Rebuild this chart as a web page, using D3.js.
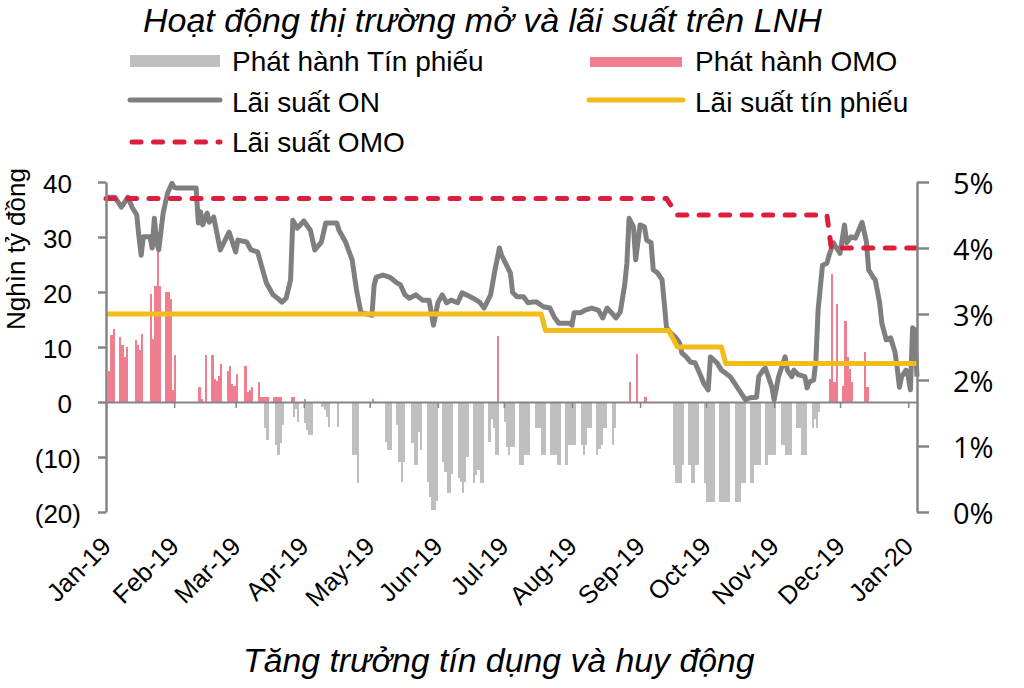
<!DOCTYPE html>
<html><head><meta charset="utf-8">
<script src="https://cdn.jsdelivr.net/npm/d3@7"></script>
<style>
body{margin:0;background:#fff}
svg{display:block}
text{font-family:"Liberation Sans",Arial,sans-serif;fill:#000}
</style>
</head><body>
<svg id="chart" width="1024" height="688"></svg>
<script>
// ---------- DATA ----------
const chartTitle = "Hoạt động thị trường mở và lãi suất trên LNH";
const bottomTitle = "Tăng trưởng tín dụng và huy động";
const leftAxisTitle = "Nghìn tỷ đồng";
const legendLabels = ["Phát hành Tín phiếu","Phát hành OMO","Lãi suất ON","Lãi suất tín phiếu","Lãi suất OMO"];
const leftTicks = [40,30,20,10,0,-10,-20];
const rightTicks = [0,1,2,3,4,5];
const monthTicks = ["2019-01-01","2019-02-01","2019-03-01","2019-04-01","2019-05-01","2019-06-01","2019-07-01",
  "2019-08-01","2019-09-01","2019-10-01","2019-11-01","2019-12-01","2020-01-01"];

// Phát hành OMO (nghìn tỷ đồng)
const omoIssue = [
 ["2019-01-02",5.7],["2019-01-03",12.1],["2019-01-04",13.3],
 ["2019-01-07",11.8],["2019-01-08",10.3],["2019-01-09",8.2],["2019-01-10",10.0],
 ["2019-01-14",11.2],["2019-01-15",10.3],["2019-01-16",9.4],["2019-01-17",12.4],
 ["2019-01-21",19.6],["2019-01-22",11.5],["2019-01-23",21.1],["2019-01-24",27.8],["2019-01-25",21.1],
 ["2019-01-28",20.0],["2019-01-29",20.0],["2019-01-30",18.7],["2019-01-31",2.1],["2019-02-01",8.5],
 ["2019-02-12",2.7],["2019-02-13",0.6],["2019-02-15",8.5],
 ["2019-02-18",8.5],["2019-02-19",4.2],["2019-02-20",3.9],["2019-02-21",4.8],["2019-02-22",6.9],
 ["2019-02-25",5.7],["2019-02-26",6.6],["2019-02-27",3.3],["2019-02-28",3.0],["2019-03-01",5.1],
 ["2019-03-05",6.6],["2019-03-06",1.8],["2019-03-07",2.1],["2019-03-08",2.7],
 ["2019-03-11",3.6],["2019-03-12",1.0],["2019-03-13",1.0],["2019-03-14",1.0],["2019-03-15",1.0],
 ["2019-03-18",1.0],["2019-03-19",0.9],["2019-03-20",0.9],["2019-03-21",0.9],
 ["2019-03-26",0.9],["2019-03-27",0.9],["2019-04-01",0.5],["2019-05-02",0.5],
 ["2019-06-28",12.0],
 ["2019-08-27",3.6],["2019-08-30",8.7],["2019-09-03",0.9],
 ["2019-11-26",4.2],["2019-11-27",23.2],["2019-11-28",3.6],["2019-11-29",17.8],
 ["2019-12-02",3.0],["2019-12-03",14.7],["2019-12-04",8.2],["2019-12-05",6.0],["2019-12-06",3.6],
 ["2019-12-12",9.1],["2019-12-13",2.7]
];

// Phát hành Tín phiếu (nghìn tỷ đồng, âm = hút về)
const billIssue = [
 ["2019-03-14",-4.8],["2019-03-15",-6.9],
 ["2019-03-19",-7.9],["2019-03-20",-9.7],["2019-03-21",-7.5],["2019-03-22",-4.2],
 ["2019-03-27",-2.7],["2019-03-28",-1.2],["2019-03-29",-3.6],["2019-04-01",-3.9],["2019-04-02",-5.1],["2019-04-03",-6.0],["2019-04-04",-6.0],
 ["2019-04-09",-0.9],["2019-04-10",-1.5],["2019-04-11",-2.7],["2019-04-12",-4.5],
 ["2019-04-16",-4.5],
 ["2019-04-23",-9.7],["2019-04-24",-9.7],["2019-04-25",-14.8],
 ["2019-05-08",-7.2],["2019-05-09",-8.8],["2019-05-10",-8.8],
 ["2019-05-13",-4.2],["2019-05-14",-10.9],["2019-05-15",-14.5],["2019-05-16",-10.9],
 ["2019-05-20",-7.5],["2019-05-21",-11.5],["2019-05-22",-11.5],["2019-05-23",-5.4],["2019-05-24",-8.8],
 ["2019-05-27",-14.5],["2019-05-28",-17.2],["2019-05-29",-19.6],["2019-05-30",-19.6],["2019-05-31",-18.0],
 ["2019-06-03",-10.9],["2019-06-04",-12.7],["2019-06-05",-16.6],["2019-06-06",-16.6],["2019-06-07",-13.0],
 ["2019-06-10",-13.9],["2019-06-11",-14.5],["2019-06-12",-16.6],["2019-06-13",-14.5],["2019-06-14",-10.0],
 ["2019-06-17",-14.8],["2019-06-18",-13.3],["2019-06-19",-12.4],["2019-06-20",-14.8],["2019-06-21",-14.8],
 ["2019-06-24",-7.2],["2019-06-25",-3.0],["2019-06-26",-4.8],["2019-06-27",-9.7],["2019-06-28",-9.7],
 ["2019-07-01",-3.6],["2019-07-02",-8.2],["2019-07-03",-9.7],["2019-07-04",-8.2],["2019-07-05",-8.2],
 ["2019-07-08",-11.5],["2019-07-09",-11.5],["2019-07-10",-9.7],["2019-07-11",-9.7],["2019-07-12",-9.7],
 ["2019-07-15",-4.8],["2019-07-16",-4.8],["2019-07-17",-4.8],["2019-07-18",-9.7],["2019-07-19",-9.7],
 ["2019-07-22",-9.7],["2019-07-23",-9.7],["2019-07-24",-9.7],["2019-07-25",-11.5],["2019-07-26",-11.5],
 ["2019-07-29",-11.5],["2019-07-30",-7.9],["2019-07-31",-7.9],["2019-08-01",-7.9],["2019-08-02",-7.9],
 ["2019-08-05",-7.9],["2019-08-06",-9.7],["2019-08-07",-7.9],["2019-08-08",-4.8],["2019-08-09",-4.8],
 ["2019-08-12",-9.7],["2019-08-13",-8.5],["2019-08-14",-7.9],["2019-08-15",-4.8],["2019-08-16",-4.8],
 ["2019-08-19",-7.9],["2019-08-20",-4.8],
 ["2019-09-16",-11.5],["2019-09-17",-14.8],["2019-09-18",-14.8],["2019-09-19",-14.8],["2019-09-20",-11.5],
 ["2019-09-23",-11.5],["2019-09-24",-14.8],["2019-09-25",-14.8],["2019-09-26",-11.5],["2019-09-27",-11.5],
 ["2019-09-30",-14.8],["2019-10-01",-18.1],["2019-10-02",-18.1],["2019-10-03",-18.1],["2019-10-04",-18.1],
 ["2019-10-07",-18.1],["2019-10-08",-18.1],["2019-10-09",-18.1],["2019-10-10",-18.1],["2019-10-11",-18.1],
 ["2019-10-14",-18.1],["2019-10-15",-18.1],["2019-10-16",-18.1],["2019-10-17",-14.8],["2019-10-18",-14.8],
 ["2019-10-21",-14.8],["2019-10-22",-14.8],["2019-10-23",-11.5],["2019-10-24",-11.5],["2019-10-25",-11.5],
 ["2019-10-28",-11.5],["2019-10-29",-9.7],["2019-10-30",-9.7],["2019-10-31",-9.7],["2019-11-01",-9.7],
 ["2019-11-04",-7.9],["2019-11-05",-7.9],["2019-11-06",-9.7],["2019-11-07",-9.7],["2019-11-08",-9.7],
 ["2019-11-11",-4.8],["2019-11-12",-4.8],["2019-11-13",-9.7],["2019-11-14",-9.7],["2019-11-15",-9.7],
 ["2019-11-18",-4.8],["2019-11-19",-3.0],["2019-11-20",-4.8],["2019-11-21",-1.8]
];

// Lãi suất ON (%)
const onRate = [
 ["2019-01-01",4.77],["2019-01-05",4.77],["2019-01-08",4.62],["2019-01-09",4.67],["2019-01-11",4.77],
 ["2019-01-13",4.61],["2019-01-15",4.50],["2019-01-16",4.17],["2019-01-17",3.89],["2019-01-18",4.17],
 ["2019-01-21",4.17],["2019-01-22",4.00],["2019-01-23",4.45],["2019-01-24",4.09],["2019-01-25",3.97],
 ["2019-01-27",4.53],["2019-01-29",4.83],["2019-01-31",4.98],["2019-02-01",4.92],["2019-02-02",4.91],
 ["2019-02-11",4.91],["2019-02-12",4.38],["2019-02-13",4.55],["2019-02-14",4.35],["2019-02-16",4.53],
 ["2019-02-17",4.39],["2019-02-19",4.47],["2019-02-22",3.97],["2019-02-26",4.24],["2019-03-01",3.94],
 ["2019-03-02",4.12],["2019-03-06",4.09],["2019-03-08",3.97],["2019-03-11",3.94],["2019-03-13",3.70],
 ["2019-03-15",3.47],["2019-03-18",3.29],["2019-03-20",3.24],["2019-03-22",3.18],["2019-03-24",3.24],
 ["2019-03-26",3.52],["2019-03-27",4.42],["2019-03-29",4.30],["2019-04-01",4.41],["2019-04-04",4.27],
 ["2019-04-06",3.97],["2019-04-09",4.09],["2019-04-11",4.38],["2019-04-16",4.38],["2019-04-17",4.27],
 ["2019-04-20",4.09],["2019-04-23",3.82],["2019-04-25",3.36],["2019-04-27",3.02],["2019-05-02",2.98],
 ["2019-05-03",3.44],["2019-05-04",3.56],["2019-05-07",3.59],["2019-05-10",3.56],["2019-05-13",3.48],
 ["2019-05-15",3.44],["2019-05-17",3.29],["2019-05-19",3.24],["2019-05-22",3.29],["2019-05-25",3.21],
 ["2019-05-28",3.21],["2019-05-30",2.83],["2019-06-01",3.17],["2019-06-03",3.29],["2019-06-05",3.17],
 ["2019-06-07",3.21],["2019-06-10",3.17],["2019-06-12",3.32],["2019-06-14",3.29],["2019-06-17",3.24],
 ["2019-06-20",3.18],["2019-06-22",3.09],["2019-06-25",3.29],["2019-06-27",3.67],["2019-06-29",4.00],
 ["2019-06-30",3.89],["2019-07-04",3.62],["2019-07-05",3.33],["2019-07-07",3.26],["2019-07-10",3.26],
 ["2019-07-12",3.17],["2019-07-14",3.18],["2019-07-16",3.18],["2019-07-19",3.11],["2019-07-22",3.09],
 ["2019-07-24",2.95],["2019-07-26",2.86],["2019-07-31",2.86],["2019-08-01",2.83],["2019-08-02",3.02],
 ["2019-08-05",3.02],["2019-08-07",3.06],["2019-08-10",3.09],["2019-08-13",3.06],["2019-08-15",2.94],
 ["2019-08-17",3.09],["2019-08-19",3.02],["2019-08-21",2.94],["2019-08-23",3.03],["2019-08-25",3.44],
 ["2019-08-26",3.77],["2019-08-27",4.45],["2019-08-29",4.32],["2019-08-30",3.82],["2019-09-01",4.35],
 ["2019-09-03",4.32],["2019-09-04",4.12],["2019-09-06",4.08],["2019-09-07",3.67],["2019-09-09",3.62],
 ["2019-09-11",3.52],["2019-09-12",3.17],["2019-09-13",2.80],["2019-09-15",2.71],["2019-09-17",2.65],
 ["2019-09-19",2.56],["2019-09-20",2.41],["2019-09-22",2.35],["2019-09-24",2.27],["2019-09-26",2.26],
 ["2019-09-28",2.11],["2019-09-30",1.95],["2019-10-02",1.85],["2019-10-03",2.35],["2019-10-06",2.26],
 ["2019-10-08",2.15],["2019-10-12",2.05],["2019-10-16",1.85],["2019-10-19",1.70],["2019-10-21",1.73],
 ["2019-10-24",1.74],["2019-10-25",2.05],["2019-10-27",2.15],["2019-10-28",2.18],["2019-10-31",1.89],
 ["2019-11-01",1.70],["2019-11-03",2.05],["2019-11-06",2.35],["2019-11-07",2.15],["2019-11-09",2.05],
 ["2019-11-10",2.15],["2019-11-12",2.08],["2019-11-15",2.05],["2019-11-16",1.88],["2019-11-17",1.97],
 ["2019-11-19",2.00],["2019-11-20",2.30],["2019-11-21",3.06],["2019-11-23",3.74],["2019-11-25",3.77],
 ["2019-11-26",3.89],["2019-11-28",4.08],["2019-11-29",4.02],["2019-12-01",3.92],["2019-12-03",4.35],
 ["2019-12-04",4.08],["2019-12-06",4.17],["2019-12-08",4.15],["2019-12-11",4.39],["2019-12-13",4.09],
 ["2019-12-14",3.67],["2019-12-16",3.56],["2019-12-17",3.52],["2019-12-19",3.17],["2019-12-20",2.86],
 ["2019-12-22",2.61],["2019-12-24",2.64],["2019-12-26",2.42],["2019-12-27",2.18],["2019-12-28",1.89],
 ["2019-12-29",2.05],["2019-12-31",2.15],["2020-01-01",2.05],["2020-01-02",1.85],["2020-01-03",2.79],
 ["2020-01-04",2.76],["2020-01-05",2.05]
];

// Lãi suất tín phiếu (%)
const billRate = [
 ["2019-01-01",3.0],["2019-07-18",3.0],["2019-07-20",2.75],["2019-09-14",2.75],["2019-09-18",2.5],
 ["2019-10-08",2.5],["2019-10-10",2.25],["2020-01-05",2.25]
];

// Lãi suất OMO (%)
const omoRate = [
 ["2019-01-01",4.75],["2019-09-13",4.75],["2019-09-18",4.5],["2019-11-25",4.5],["2019-11-27",4.0],["2020-01-05",4.0]
];

// ---------- CHART ----------
const parse = d3.timeParse("%Y-%m-%d");
const svg = d3.select("#chart");

const x = d3.scaleTime().domain([parse("2019-01-01"), parse("2020-01-05")]).range([106, 917]);
const yL = d3.scaleLinear().domain([-20, 40]).range([512, 182]);
const yR = d3.scaleLinear().domain([0, 5]).range([512, 182]);

const colors = {bill:"#BFBFBF", omo:"#EF7F8F", on:"#7F7F7F", billRate:"#F2BC1A", omoRate:"#DC1E3C", axis:"#858585"};

function bars(data, color) {
  svg.append("g").attr("shape-rendering","crispEdges").selectAll("rect").data(data).join("rect")
    .attr("x", d => Math.round(x(parse(d[0]))))
    .attr("width", d => Math.round(x(d3.timeDay.offset(parse(d[0]), 1))) - Math.round(x(parse(d[0]))))
    .attr("y", d => Math.min(yL(d[1]), yL(0)))
    .attr("height", d => Math.abs(yL(d[1]) - yL(0)))
    .attr("fill", color);
}
bars(billIssue, colors.bill);
bars(omoIssue, colors.omo);

// zero line with month ticks
const zeroAxis = svg.append("g").attr("transform", `translate(0,${yL(0)})`)
  .call(d3.axisBottom(x).tickValues(monthTicks.map(parse)).tickSize(6).tickSizeOuter(0).tickFormat(""));
zeroAxis.select(".domain").attr("stroke", colors.axis).attr("stroke-width", 2);
zeroAxis.selectAll(".tick line").attr("stroke", colors.axis).attr("stroke-width", 1.5);

// lines
const lineGen = (yScale) => d3.line().x(d => x(parse(d[0]))).y(d => yScale(d[1]));
svg.append("path").datum(onRate).attr("d", lineGen(yR))
  .attr("fill","none").attr("stroke",colors.on).attr("stroke-width",5).attr("stroke-linejoin","round");
svg.append("path").datum(billRate).attr("d", lineGen(yR))
  .attr("fill","none").attr("stroke",colors.billRate).attr("stroke-width",5).attr("stroke-linejoin","round");
svg.append("path").datum(omoRate).attr("d", lineGen(yR))
  .attr("fill","none").attr("stroke",colors.omoRate).attr("stroke-width",5)
  .attr("stroke-dasharray","9,12.5").attr("stroke-linecap","round").attr("stroke-linejoin","round");

// left axis
const fmtL = v => v < 0 ? `(${Math.abs(v)})` : `${v}`;
const gL = svg.append("g").attr("transform","translate(106,0)")
  .call(d3.axisLeft(yL).tickValues(leftTicks).tickSize(8).tickSizeOuter(0).tickFormat(fmtL));
gL.select(".domain").attr("stroke", colors.axis).attr("stroke-width", 2.5);
gL.selectAll(".tick line").attr("stroke", colors.axis).attr("stroke-width", 2.5);
gL.selectAll(".tick text")
  .attr("x", d => d < 0 ? -25 : -34).attr("dy", "0.42em")
  .style("font-size","26px").style("font-family","'Liberation Sans',Arial,sans-serif")
  .attr("fill", d => d < 0 ? "#E0141E" : "#000");

// right axis
const gR = svg.append("g").attr("transform","translate(917,0)")
  .call(d3.axisRight(yR).tickValues(rightTicks).tickSize(12).tickSizeOuter(0).tickFormat(d => d + "%"));
gR.select(".domain").attr("stroke", colors.axis).attr("stroke-width", 2.5);
gR.selectAll(".tick line").attr("stroke", colors.axis).attr("stroke-width", 2.5);
gR.selectAll(".tick text").attr("x", 36).attr("dy","0.38em")
  .style("font-size","29px").style("font-family","'Open Sans','Noto Sans',sans-serif").attr("fill","#111");

// month labels
const gX = svg.append("g").attr("transform","translate(0,512)")
  .call(d3.axisBottom(x).tickValues(monthTicks.map(parse)).tickSize(0).tickFormat(d3.timeFormat("%b-%y")));
gX.select(".domain").remove();
gX.selectAll(".tick text").attr("x",0).attr("y",0).attr("dy",0)
  .attr("text-anchor","end").attr("transform","translate(6,36) rotate(-45)")
  .style("font-size","25.5px").style("font-family","'Liberation Sans',Arial,sans-serif").attr("fill","#000");

// left axis title
svg.append("text").attr("transform","translate(25,249) rotate(-90)").attr("text-anchor","middle")
  .style("font-size","26px").text(leftAxisTitle);

// titles
svg.append("text").attr("x",143).attr("y",32).style("font-size","34px").style("font-style","italic").text(chartTitle);
svg.append("text").attr("x",243).attr("y",672).style("font-size","33.8px").style("font-style","italic").text(bottomTitle);

// legend
const legendPos = [[130,71],[590,71],[130,112],[590,112],[130,152]];
const legendKind = ["barBill","barOmo","lineOn","lineBill","lineOmo"];
const lg = svg.append("g");
legendLabels.forEach((lab, i) => {
  const [lx, ly] = legendPos[i];
  const k = legendKind[i];
  if (k === "barBill") lg.append("rect").attr("x",lx).attr("y",ly-16).attr("width",90).attr("height",12).attr("fill",colors.bill);
  if (k === "barOmo") lg.append("rect").attr("x",lx).attr("y",ly-14).attr("width",92).attr("height",10).attr("fill",colors.omo);
  if (k === "lineOn") lg.append("line").attr("x1",lx).attr("x2",lx+90).attr("y1",ly-12).attr("y2",ly-12).attr("stroke",colors.on).attr("stroke-width",5).attr("stroke-linecap","round");
  if (k === "lineBill") lg.append("line").attr("x1",lx-1).attr("x2",lx+93).attr("y1",ly-12).attr("y2",ly-12).attr("stroke",colors.billRate).attr("stroke-width",5).attr("stroke-linecap","round");
  if (k === "lineOmo") lg.append("line").attr("x1",lx+2).attr("x2",lx+90).attr("y1",ly-10).attr("y2",ly-10).attr("stroke",colors.omoRate).attr("stroke-width",5).attr("stroke-dasharray","9,12.5").attr("stroke-linecap","round");
  lg.append("text").attr("x", i % 2 === 0 ? 232 : 695).attr("y", ly).style("font-size","28px").text(lab);
});
</script>
</body></html>
